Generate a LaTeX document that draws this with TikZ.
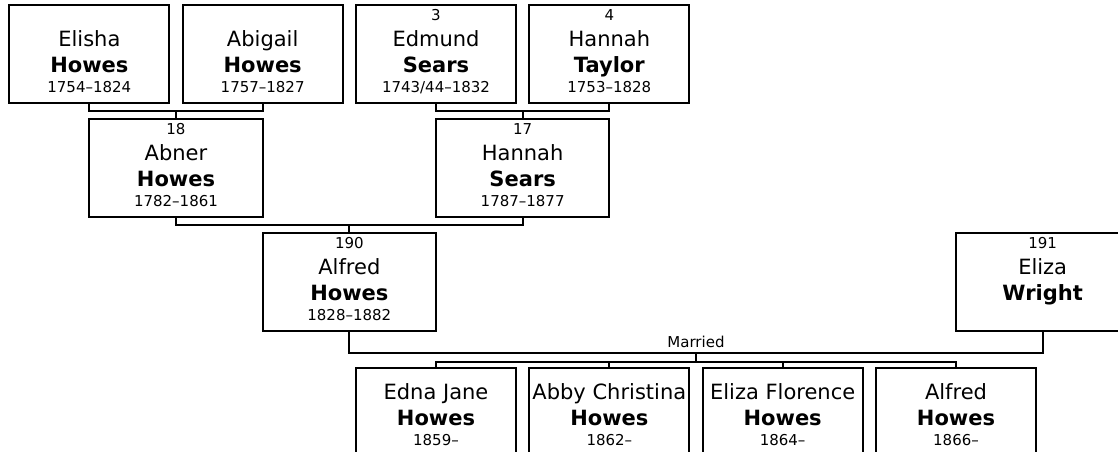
\documentclass[tikz,border=0pt]{standalone}
\usepackage{fontspec}
\setmainfont{DejaVu Sans}
\usepackage{tikz}
\usetikzlibrary{positioning, calc}

\newcommand{\smallsz}{\fontsize{11.25}{13}\selectfont}
\newcommand{\namesz}{\fontsize{15.75}{19.5}\selectfont}
% number / given name / surname / years
\newcommand{\famtext}[4]{\rule{0pt}{8pt}{\smallsz #1}\\#2\\{\bfseries #3}\\[-4.5pt]{\smallsz #4}\rule[-4pt]{0pt}{4pt}}
\newcommand{\kidtext}[3]{#1\\{\bfseries #2}\\[-4.5pt]{\smallsz #3}\rule[-4pt]{0pt}{4pt}}

\tikzstyle{person} = [rectangle, draw=black, line width=1.6pt, minimum width=120pt, minimum height=73.5pt, inner sep=0pt, outer sep=0pt, align=center, font=\namesz]
\tikzstyle{parent} = [person, minimum width=130pt]
\tikzstyle{link}   = [line width=1.6pt]

\begin{document}
\begin{tikzpicture}
\useasboundingbox (0pt,0pt) rectangle (838.5pt,-339pt);
\clip (0pt,0pt) rectangle (838.5pt,-339pt);

\node (elisha) [person] at (67pt,-40.5pt) {\famtext{}{Elisha}{Howes}{1754--1824}};
\node (abigail) [person, right=10pt of elisha] {\famtext{}{Abigail}{Howes}{1757--1827}};
\node (edmund) [person, right=10pt of abigail] {\famtext{3}{Edmund}{Sears}{1743/44--1832}};
\node (hannahT) [person, right=10pt of edmund] {\famtext{4}{Hannah}{Taylor}{1753--1828}};

\node (abner) [parent, anchor=north] at ($(elisha.south)!0.5!(abigail.south)+(0,-12pt)$) {\famtext{18}{Abner}{Howes}{1782--1861}};
\node (hannahS) [parent, anchor=north] at ($(edmund.south)!0.5!(hannahT.south)+(0,-12pt)$) {\famtext{17}{Hannah}{Sears}{1787--1877}};

\node (alfred) [parent, anchor=north] at ($(abner.south)!0.5!(hannahS.south)+(0,-12pt)$) {\famtext{190}{Alfred}{Howes}{1828--1882}};
\node (eliza) [parent, right=390pt of alfred] {\famtext{191}{Eliza}{Wright}{}};

\node (edna) [person, anchor=north] at ($(alfred.south east)+(0,-27.75pt)$) {\kidtext{Edna Jane}{Howes}{1859--}};
\node (abby) [person, right=10pt of edna] {\kidtext{Abby Christina}{Howes}{1862--}};
\node (elizaF) [person, right=10pt of abby] {\kidtext{Eliza Florence}{Howes}{1864--}};
\node (alfredJr) [person, right=10pt of elizaF] {\kidtext{Alfred}{Howes}{1866--}};

% Parents of Abner and Hannah
\draw [link] (elisha.south) -- ++(0,-6pt) -| (abigail.south);
\draw [link] (abner.north) -- ++(0,6pt);
\draw [link] (edmund.south) -- ++(0,-6pt) -| (hannahT.south);
\draw [link] (hannahS.north) -- ++(0,6pt);

% Parents of Alfred
\draw [link] (abner.south) -- ++(0,-6pt) -| (hannahS.south);
\draw [link] (alfred.north) -- ++(0,6pt);

% Marriage and children
\coordinate (wed) at ($(alfred.south)!0.5!(eliza.south)+(0,-16.25pt)$);
\draw [link] (alfred.south) |- (wed) -| (eliza.south);
\node (married) [above, font=\smallsz] at (wed) {Married};
\draw [link] (wed) -- ++(0,-7.2pt);
\draw [link] (edna.north) -- ++(0,4.3pt) -| (alfredJr.north);
\draw [link] (abby.north) -- ++(0,4.3pt);
\draw [link] (elizaF.north) -- ++(0,4.3pt);

\end{tikzpicture}
\end{document}
